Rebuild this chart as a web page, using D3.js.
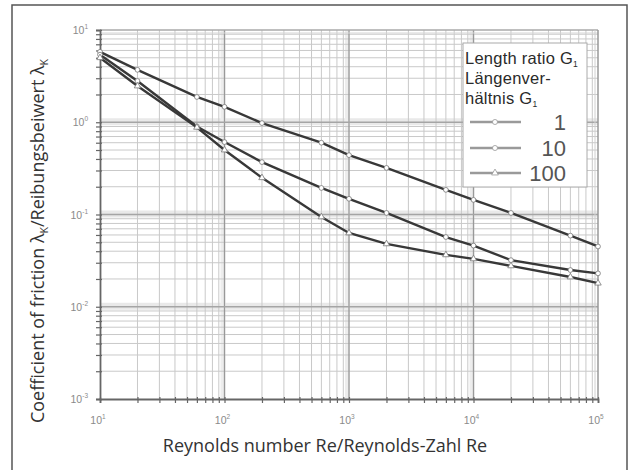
<!DOCTYPE html>
<html><head><meta charset="utf-8">
<script src="https://cdn.jsdelivr.net/npm/d3@7"></script>
<style>
html,body{margin:0;padding:0;background:#fff;}
svg{display:block;}
</style></head>
<body>
<script>
// ---- data ----
const reynolds = [10, 20, 60, 100, 200, 600, 1000, 2000, 6000, 10000, 20000, 60000, 100000];
const lambdaG1   = [5.8, 3.7, 1.88, 1.47, 0.98, 0.60, 0.44, 0.32, 0.185, 0.144, 0.104, 0.059, 0.045];
const lambdaG10  = [5.4, 2.8, 0.90, 0.61, 0.37, 0.194, 0.148, 0.104, 0.057, 0.046, 0.032, 0.025, 0.023];
const lambdaG100 = [5.0, 2.47, 0.88, 0.50, 0.25, 0.094, 0.063, 0.048, 0.0365, 0.033, 0.0277, 0.021, 0.018];
const seriesLabels = ["1", "10", "100"];
const xTickExp = [1, 2, 3, 4, 5];
const yTickExp = [1, 0, -1, -2, -3];

const W = 634, H = 470;
const svg = d3.select("body").append("svg").attr("width", W).attr("height", H);

const m = {l: 100, r: 598, t: 30, b: 399};
const x = d3.scaleLog().domain([10, 1e5]).range([m.l, m.r]);
const y = d3.scaleLog().domain([1e-3, 10]).range([m.b, m.t]);

// outer frame
svg.append("rect").attr("x", 12).attr("y", 5).attr("width", 615).attr("height", 480)
  .attr("fill", "none").attr("stroke", "#555").attr("stroke-width", 1.5);

const g = svg.append("g");

// bands around major lines
const majorX = xTickExp.map(e => Math.pow(10, e));
const majorY = yTickExp.map(e => Math.pow(10, e));
g.selectAll(".hband").data(majorY.filter(v => v < 10 && v > 1e-3)).enter().append("rect")
  .attr("x", m.l).attr("width", m.r - m.l)
  .attr("y", d => y(d) - 4).attr("height", 7).attr("fill", "#e9e9e9");
g.selectAll(".vband").data(majorX.filter(v => v > 10 && v < 1e5)).enter().append("rect")
  .attr("y", m.t).attr("height", m.b - m.t)
  .attr("x", d => x(d) - 4).attr("width", 5).attr("fill", "#ededed");

// minor grid
const minorX = [], minorY = [];
for (let e = 1; e < 5; e++) for (let k = 2; k <= 9; k++) minorX.push(k * Math.pow(10, e));
for (let e = -3; e < 1; e++) for (let k = 2; k <= 9; k++) minorY.push(k * Math.pow(10, e));

g.selectAll(".mx").data(minorX).enter().append("line")
  .attr("x1", d => x(d)).attr("x2", d => x(d)).attr("y1", m.t).attr("y2", m.b)
  .attr("stroke", "#c9c9c9").attr("stroke-width", 1);
g.selectAll(".my").data(minorY).enter().append("line")
  .attr("y1", d => y(d)).attr("y2", d => y(d)).attr("x1", m.l).attr("x2", m.r)
  .attr("stroke", "#c9c9c9").attr("stroke-width", 1);

// major grid
g.selectAll(".Mx").data(majorX.filter(v => v > 10 && v < 1e5)).enter().append("line")
  .attr("x1", d => x(d)).attr("x2", d => x(d)).attr("y1", m.t).attr("y2", m.b)
  .attr("stroke", "#999").attr("stroke-width", 1.3);
g.selectAll(".My").data(majorY.filter(v => v < 10 && v > 1e-3)).enter().append("line")
  .attr("y1", d => y(d)).attr("y2", d => y(d)).attr("x1", m.l).attr("x2", m.r)
  .attr("stroke", "#a5a5a5").attr("stroke-width", 1.3);

// plot border
g.append("line").attr("x1", m.l).attr("x2", m.r).attr("y1", m.t).attr("y2", m.t).attr("stroke", "#aaa").attr("stroke-width", 1.5);
g.append("line").attr("x1", m.l).attr("x2", m.r).attr("y1", m.t + 3).attr("y2", m.t + 3).attr("stroke", "#d5d5d5").attr("stroke-width", 1);
g.append("line").attr("x1", m.r).attr("x2", m.r).attr("y1", m.t).attr("y2", m.b).attr("stroke", "#999").attr("stroke-width", 1.5);
g.append("line").attr("x1", m.r - 3).attr("x2", m.r - 3).attr("y1", m.t).attr("y2", m.b).attr("stroke", "#d0d0d0").attr("stroke-width", 1);

// axes with ticks (D3 axis)
const allX = majorX.concat(minorX).sort((a, b) => a - b);
const allY = majorY.concat(minorY).sort((a, b) => a - b);
const xAxis = d3.axisBottom(x).tickValues(allX).tickSize(4).tickFormat("");
const yAxis = d3.axisLeft(y).tickValues(allY).tickSize(4).tickFormat("");
const xa = svg.append("g").attr("transform", `translate(0,${m.b})`).call(xAxis);
const ya = svg.append("g").attr("transform", `translate(${m.l},0)`).call(yAxis);
[xa, ya].forEach(a => {
  a.select(".domain").attr("stroke", "#666").attr("stroke-width", 1.8);
  a.selectAll(".tick line").attr("stroke", "#666").attr("stroke-width", 1.2);
});
xa.selectAll(".tick line").attr("y1", -2);
ya.selectAll(".tick line").attr("x1", 2);

// tick labels
const tickFont = "Liberation Sans, Arial, sans-serif";
xTickExp.forEach(e => {
  const t = svg.append("text").attr("x", x(Math.pow(10, e)) - 2).attr("y", 424)
    .attr("text-anchor", "middle").attr("font-family", tickFont).attr("font-size", 10.5).attr("fill", "#8a8a8a");
  t.append("tspan").text("10");
  t.append("tspan").attr("dy", -5).attr("font-size", 6.5).text(e);
});
yTickExp.forEach(e => {
  const t = svg.append("text").attr("x", 88).attr("y", y(Math.pow(10, e)) + 4)
    .attr("text-anchor", "end").attr("font-family", tickFont).attr("font-size", 10.5).attr("fill", "#8a8a8a");
  t.append("tspan").text("10");
  t.append("tspan").attr("dy", -5).attr("font-size", 6.5).text(e);
});

// data lines
const series = [
  {name: seriesLabels[0], values: lambdaG1, marker: d3.symbolCircle},
  {name: seriesLabels[1], values: lambdaG10, marker: d3.symbolCircle},
  {name: seriesLabels[2], values: lambdaG100, marker: d3.symbolTriangle}
];
const line = d3.line().x((d, i) => x(reynolds[i])).y(d => y(d));
series.forEach(s => {
  svg.append("path").attr("d", line(s.values)).attr("fill", "none")
    .attr("stroke", "#383838").attr("stroke-width", 2.4);
  svg.selectAll(null).data(s.values).enter().append("path")
    .attr("transform", (d, i) => `translate(${x(reynolds[i])},${y(d)})`)
    .attr("d", d3.symbol().type(s.marker).size(18))
    .attr("fill", "#fff").attr("stroke", "#777").attr("stroke-width", 0.8);
});

// legend
const lg = svg.append("g");
lg.append("rect").attr("x", 463).attr("y", 43).attr("width", 124).attr("height", 144)
  .attr("fill", "#fff").attr("stroke", "#aaa").attr("stroke-width", 1);
const lf = "Open Sans, sans-serif";
const legFont = "Liberation Sans, Arial, sans-serif";
const titleRows = [["Length ratio G", "1", 64], ["Längenver-", null, 84], ["hältnis G", "1", 104]];
titleRows.forEach(([txt, sub, yy]) => {
  const t = lg.append("text").attr("x", 465).attr("y", yy).attr("font-family", legFont)
    .attr("font-size", 16.5).attr("fill", "#2a2a2a").attr("letter-spacing", 0.25);
  t.append("tspan").text(txt);
  if (sub) t.append("tspan").attr("dy", 3).attr("font-size", 8.5).text(sub);
});

const legY = [122, 148, 173];
series.forEach((s, i) => {
  lg.append("line").attr("x1", 470).attr("x2", 521).attr("y1", legY[i]).attr("y2", legY[i])
    .attr("stroke", "#9a9a9a").attr("stroke-width", 2.5);
  lg.append("path").attr("transform", `translate(495,${legY[i]})`)
    .attr("d", d3.symbol().type(s.marker).size(20))
    .attr("fill", "#fff").attr("stroke", "#999").attr("stroke-width", 0.8);
  lg.append("text").attr("x", 566).attr("y", legY[i] + 8).attr("text-anchor", "end")
    .attr("font-family", legFont).attr("font-size", 22).attr("fill", "#555").text(s.name);
});

// axis titles
svg.append("text").attr("x", 325).attr("y", 452).attr("text-anchor", "middle")
  .attr("font-family", lf).attr("font-size", 18).attr("fill", "#333")
  .text("Reynolds number Re/Reynolds-Zahl Re");

const yt = svg.append("text").attr("transform", "translate(44,241) rotate(-90)")
  .attr("text-anchor", "middle").attr("font-family", lf).attr("font-size", 18).attr("fill", "#333");
yt.append("tspan").text("Coefficient of friction λ");
yt.append("tspan").attr("dy", 4).attr("font-size", 10.5).text("K");
yt.append("tspan").attr("dy", -4).text("/Reibungsbeiwert λ");
yt.append("tspan").attr("dy", 4).attr("font-size", 10.5).text("K");
</script>
</body></html>
